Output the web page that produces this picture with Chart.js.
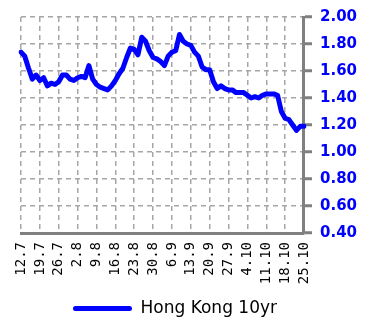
<!DOCTYPE html>
<html>
<head>
<meta charset="utf-8">
<script src="https://cdn.jsdelivr.net/npm/chart.js@4"></script>
<style>
  html, body { margin: 0; padding: 0; background: #fff; }
  #wrap { width: 369px; height: 320px; }
</style>
</head>
<body>
<div id="wrap"><canvas id="lineChart"></canvas></div>
<script>
/* Hong Kong 10yr yield, daily */

// business days 12.7 - 25.10
let dates = [
    '12.7','13.7','14.7','15.7','16.7','19.7','20.7','21.7','22.7','23.7','26.7','27.7','28.7','29.7','30.7',
    '2.8','3.8','4.8','5.8','6.8','9.8','10.8','11.8','12.8','13.8','16.8','17.8','18.8','19.8','20.8',
    '23.8','24.8','25.8','26.8','27.8','30.8','31.8',
    '1.9','2.9','3.9','6.9','7.9','8.9','9.9','10.9','13.9','14.9','15.9','16.9','17.9','20.9','21.9',
    '22.9','23.9','24.9','27.9','28.9','29.9','30.9',
    '1.10','4.10','5.10','6.10','7.10','8.10','11.10','12.10','13.10','14.10','15.10','18.10','19.10',
    '20.10','21.10','22.10','25.10'
];

// labels shown on the axis (one a week)
let tickLabels = ['12.7','19.7','26.7','2.8','9.8','16.8','23.8','30.8','6.9','13.9','20.9','27.9','4.10','11.10','18.10','25.10'];

let hk10yr = [
    1.74, 1.71, 1.62, 1.54, 1.57, 1.53, 1.55, 1.49, 1.51, 1.50,
    1.52, 1.57, 1.57, 1.54, 1.53, 1.55, 1.56, 1.55, 1.64, 1.54,
    1.50, 1.48, 1.47, 1.46, 1.49, 1.53, 1.58, 1.62, 1.70, 1.77,
    1.76, 1.72, 1.85, 1.82, 1.75, 1.70, 1.69, 1.67, 1.64, 1.71,
    1.74, 1.75, 1.87, 1.82, 1.80, 1.79, 1.74, 1.71, 1.63, 1.61,
    1.61, 1.52, 1.47, 1.49, 1.47, 1.46, 1.46, 1.44, 1.44, 1.44,
    1.42, 1.40, 1.41, 1.40, 1.42, 1.43, 1.43, 1.43, 1.42, 1.30,
    1.25, 1.24, 1.20, 1.16, 1.19, 1.19
];

let yTicks = [0.4, 0.6, 0.8, 1.0, 1.2, 1.4, 1.6, 1.8, 2.0];

// move the legend a bit left and down, like the original
const legendShift = {
    id: 'legendShift',
    afterLayout(chart) {
        chart.legend.left -= 18;
        chart.legend.right -= 18;
        chart.legend.top += 9;
        chart.legend.bottom += 9;
    }
};

let ctx = document.getElementById('lineChart').getContext('2d');

let chart = new Chart(ctx, {
    type: 'line',
    data: {
        labels: dates,
        datasets: [{
            label: 'Hong Kong 10yr',
            data: hk10yr,
            borderColor: '#0000ff',
            backgroundColor: '#0000ff',
            borderWidth: 5,
            pointRadius: 0,
            tension: 0,
            borderJoinStyle: 'round',
            borderCapStyle: 'round'
        }]
    },
    options: {
        responsive: true,
        maintainAspectRatio: false,
        animation: false,
        layout: { padding: { left: 21, top: 16, right: 4, bottom: 2 } },
        scales: {
            x: {
                offset: false,
                afterFit: function (axis) {
                    axis.height = 58;
                },
                grid: { color: '#a6a6a6', lineWidth: 1.5, drawTicks: false },
                border: { color: '#808080', width: 3, dash: [5, 4] },
                ticks: {
                    autoSkip: false,
                    maxRotation: 90,
                    minRotation: 90,
                    padding: 9,
                    color: '#000',
                    font: { family: 'DejaVu Sans Mono', size: 14 },
                    callback: function (val, i) {
                        let d = dates[i];
                        return tickLabels.indexOf(d) >= 0 ? d : null;
                    }
                }
            },
            y: {
                position: 'right',
                min: 0.4,
                max: 2.0,
                afterBuildTicks: function (axis) {
                    axis.ticks = yTicks.map(v => ({ value: v }));
                },
                grid: {
                    color: '#a6a6a6', lineWidth: 1.5,
                    drawTicks: true, tickLength: 8, tickColor: '#808080', tickWidth: 3, tickBorderDash: []
                },
                border: { color: '#808080', width: 3, dash: [5, 4] },
                ticks: {
                    padding: 8,
                    color: '#0000ff',
                    font: { family: 'DejaVu Sans', size: 15, weight: 'bold' },
                    callback: v => v.toFixed(2)
                }
            }
        },
        plugins: {
            legend: {
                position: 'bottom',
                labels: {
                    color: '#000',
                    font: { family: 'DejaVu Sans', size: 17 },
                    boxWidth: 59,
                    boxHeight: 5,
                    padding: 0,
                    useBorderRadius: true,
                    borderRadius: 2.5,
                    generateLabels: function (c) {
                        return [{
                            text: 'Hong Kong 10yr',
                            fillStyle: '#0000ff',
                            strokeStyle: '#0000ff',
                            lineWidth: 0,
                            borderRadius: 2.5,
                            datasetIndex: 0
                        }];
                    }
                }
            },
            tooltip: { enabled: false }
        }
    },
    plugins: [legendShift]
});
</script>
</body>
</html>
